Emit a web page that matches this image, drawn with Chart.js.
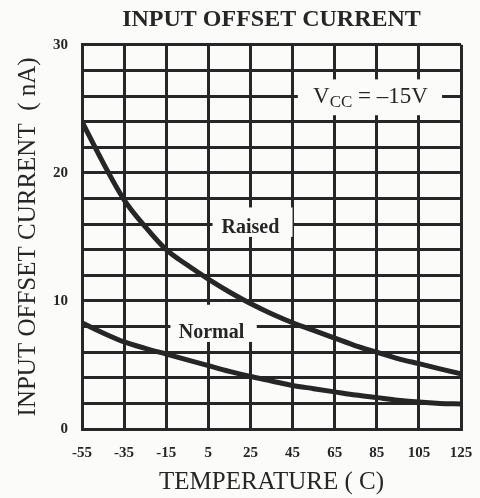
<!DOCTYPE html>
<html>
<head>
<meta charset="utf-8">
<script src="https://cdn.jsdelivr.net/npm/chart.js@4"></script>
<style>
  html, body { margin: 0; padding: 0; background: #fbfbf9; }
  #wrap { width: 480px; height: 498px; }
</style>
</head>
<body>
<div id="wrap"><canvas id="c" width="480" height="498"></canvas></div>
<script>
// ---- data ----
const temperatures = [-55, -45, -35, -25, -15, -5, 5, 15, 25, 35, 45, 55, 65, 75, 85, 95, 105, 115, 125];
const raisedCurrent = [24.0, 20.8, 17.9, 15.8, 14.0, 12.8, 11.7, 10.7, 9.8, 9.0, 8.3, 7.7, 7.1, 6.5, 6.0, 5.5, 5.1, 4.7, 4.3];
const normalCurrent = [8.3, 7.5, 6.8, 6.3, 5.85, 5.4, 4.95, 4.5, 4.1, 3.75, 3.4, 3.15, 2.9, 2.65, 2.45, 2.25, 2.1, 2.0, 1.95];
const xTickValues = [-55, -35, -15, 5, 25, 45, 65, 85, 105, 125];
const yTickValues = [0, 2, 4, 6, 8, 10, 12, 14, 16, 18, 20, 22, 24, 26, 28, 30];
const yLabelValues = [0, 10, 20, 30];
const chartTitle = 'INPUT OFFSET CURRENT';
const xAxisTitle = 'TEMPERATURE ( C)';
const yAxisTitle = 'INPUT OFFSET CURRENT  ( nA)';
const curveLabels = ['Raised', 'Normal'];

// annotation boxes (in data units: temperature / nA)
const annotations = [
  { text: 'Raised', tx: 25, ty: 15.7, box: [7, 45, 15.0, 17.3] },
  { text: 'Normal', tx: 6.5, ty: 7.5, box: [-13, 28, 6.8, 9.7] },
  { text: 'VCC', tx: 82, ty: 25.9, box: [47.5, 116, 24.5, 27.3] }
];

const INK = '#262626';
const SERIF = '"Liberation Serif", "Times New Roman", serif';

const toPoints = arr => temperatures.map((t, i) => ({ x: t, y: arr[i] }));

const labelPlugin = {
  id: 'labelPlugin',
  beforeDatasetsDraw(chart) {
    const { ctx, scales: { x, y } } = chart;
    ctx.save();
    annotations.forEach(a => {
      const x0 = x.getPixelForValue(a.box[0]), x1 = x.getPixelForValue(a.box[1]);
      const y0 = y.getPixelForValue(a.box[3]), y1 = y.getPixelForValue(a.box[2]);
      ctx.fillStyle = '#fbfbf9';
      ctx.fillRect(x0, y0, x1 - x0, y1 - y0);
      const px = x.getPixelForValue(a.tx), py = y.getPixelForValue(a.ty);
      ctx.fillStyle = INK;
      ctx.textBaseline = 'middle';
      if (a.text === 'VCC') {
        // V_CC = –15V with subscript
        const big = 'normal 23px ' + SERIF, small = 'normal 17px ' + SERIF;
        ctx.font = big; const wV = ctx.measureText('V').width;
        ctx.font = small; const wCC = ctx.measureText('CC').width;
        ctx.font = big; const wRest = ctx.measureText(' = \u201315V').width;
        let sx = px - (wV + wCC + wRest) / 2;
        ctx.textAlign = 'left';
        ctx.font = big; ctx.fillText('V', sx, py); sx += wV;
        ctx.font = small; ctx.fillText('CC', sx, py + 5); sx += wCC;
        ctx.font = big; ctx.fillText(' = \u201315V', sx, py);
      } else {
        ctx.textAlign = 'center';
        ctx.font = 'bold 20px ' + SERIF;
        ctx.fillText(a.text, px, py);
      }
    });
    ctx.restore();
  }
};

new Chart(document.getElementById('c'), {
  type: 'line',
  data: {
    datasets: [
      { label: curveLabels[0], data: toPoints(raisedCurrent) },
      { label: curveLabels[1], data: toPoints(normalCurrent) }
    ].map(d => Object.assign(d, {
      borderColor: INK, borderWidth: 5, pointRadius: 0, fill: false,
      cubicInterpolationMode: 'monotone', borderCapStyle: 'butt'
    }))
  },
  options: {
    responsive: false,
    animation: false,
    layout: { padding: { left: 0, right: 19, top: 0, bottom: 0 } },
    plugins: {
      legend: { display: false },
      tooltip: { enabled: false },
      title: {
        display: true, fullSize: false, text: chartTitle, color: INK,
        font: { family: SERIF, size: 24, weight: 'bold' },
        padding: { top: 5, bottom: 11 }
      }
    },
    scales: {
      x: {
        type: 'linear', min: -55, max: 125,
        afterBuildTicks: s => { s.ticks = xTickValues.map(v => ({ value: v })); },
        afterFit: s => { s.height = 69; s.paddingLeft = 0; s.paddingRight = 0; },
        grid: { color: INK, lineWidth: 3, drawTicks: false },
        border: { color: INK, width: 3 },
        ticks: { color: INK, padding: 15, maxRotation: 0, autoSkip: false,
                 font: { family: SERIF, size: 15, weight: 'bold' } },
        title: { display: true, text: xAxisTitle, color: INK,
                 font: { family: SERIF, size: 25 }, padding: { top: 0, bottom: 1 } }
      },
      y: {
        type: 'linear', min: 0, max: 30,
        afterBuildTicks: s => { s.ticks = yTickValues.map(v => ({ value: v })); },
        afterFit: s => { s.width = 82; s.paddingTop = 0; s.paddingBottom = 0; },
        grid: { color: INK, lineWidth: 3, drawTicks: false },
        border: { color: INK, width: 3 },
        ticks: { color: INK, padding: 14, autoSkip: false,
                 font: { family: SERIF, size: 15, weight: 'bold' },
                 callback: v => yLabelValues.includes(v) ? String(v) : '' },
        title: { display: true, text: yAxisTitle, color: INK,
                 font: { family: SERIF, size: 25 }, padding: { top: 13, bottom: 0 } }
      }
    }
  },
  plugins: [labelPlugin]
});
</script>
</body>
</html>
